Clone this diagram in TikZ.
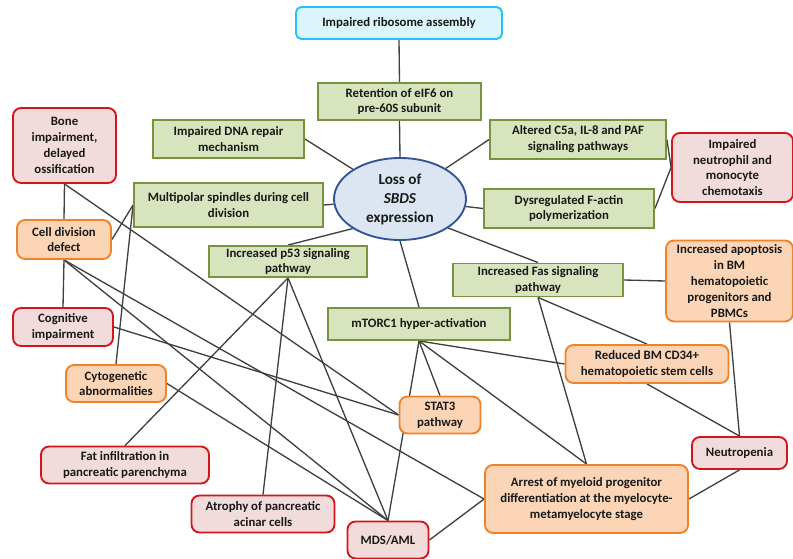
\documentclass[tikz,border=0pt]{standalone}
\usepackage{fontspec}
\setmainfont{Carlito}
\usepackage{tikz}
\usetikzlibrary{shapes.geometric}
\usetikzlibrary{backgrounds}
\definecolor{GreenFill}{HTML}{D7E4BD}
\definecolor{GreenLine}{HTML}{77933C}
\definecolor{CyanFill}{HTML}{DBF5FC}
\definecolor{CyanLine}{HTML}{22C2F2}
\definecolor{RedFill}{HTML}{F2DCDB}
\definecolor{RedLine}{HTML}{D4161C}
\definecolor{OrangeFill}{HTML}{FBD5B5}
\definecolor{OrangeLine}{HTML}{F0822A}
\definecolor{BlueFill}{HTML}{DCE6F2}
\definecolor{BlueLine}{HTML}{2F5597}

\begin{document}
\begin{tikzpicture}[x=0.75pt, y=-0.75pt,
box/.style = {draw, line width=1.4pt, align=center, inner sep=1pt, text=black!90,
  font=\bfseries\fontsize{9.6}{11.9}\selectfont},
mech/.style = {box, rectangle, draw=GreenLine, fill=GreenFill},
cause/.style = {box, rectangle, rounded corners=4pt, draw=CyanLine, fill=CyanFill},
origin/.style = {box, ellipse, inner sep=0pt, draw=BlueLine, fill=BlueFill,
  font=\bfseries\fontsize{11.4}{14.2}\selectfont},
clin/.style = {box, rectangle, rounded corners=6pt, draw=RedLine, fill=RedFill},
haem/.style = {box, rectangle, rounded corners=6pt, draw=OrangeLine, fill=OrangeFill},
edge/.style = {line width=1pt, draw=black!75}]
\useasboundingbox (0,0) rectangle (793,559);
\node[cause, minimum width=154.5pt, minimum height=24pt] (rib) at (399,23) {Impaired ribosome assembly};
\node[mech, minimum width=122.25pt, minimum height=27.75pt] (eif) at (399.5,101.5) {Retention of eIF6 on\\pre-60S subunit};
\node[mech, minimum width=113.25pt, minimum height=28.5pt] (dna) at (228.5,139) {Impaired DNA repair\\mechanism};
\node[mech, minimum width=132pt, minimum height=29.25pt] (c5a) at (578,139.5) {Altered C5a, IL-8 and PAF\\signaling pathways};
\node[origin, minimum width=99pt, minimum height=61.5pt] (loss) at (400,199) {Loss of\\\textit{SBDS}\\expression};
\node[clin, minimum width=77.25pt, minimum height=56.25pt] (bone) at (64.5,145.5) {Bone\\impairment,\\delayed\\ossification};
\node[clin, minimum width=90.75pt, minimum height=51.75pt] (neut) at (732.5,167.5) {Impaired\\neutrophil and\\monocyte\\chemotaxis};
\node[mech, minimum width=141.75pt, minimum height=33pt] (multi) at (228.5,205) {Multipolar spindles during cell\\division};
\node[mech, minimum width=127.5pt, minimum height=29.25pt] (factin) at (569,208.5) {Dysregulated F-actin\\polymerization};
\node[haem, minimum width=70.5pt, minimum height=29.25pt] (cdd) at (64,239.5) {Cell division\\defect};
\node[mech, minimum width=118.5pt, minimum height=23.25pt] (p53) at (288,261.5) {Increased p53 signaling\\pathway};
\node[mech, minimum width=127.5pt, minimum height=24.75pt] (fas) at (538,280) {Increased Fas signaling\\pathway};
\node[haem, minimum width=95.25pt, minimum height=60.75pt] (apop) at (729.5,281) {Increased apoptosis\\in BM\\hematopoietic\\progenitors and\\PBMCs};
\node[clin, minimum width=75pt, minimum height=28.5pt] (cog) at (63,327) {Cognitive\\impairment};
\node[mech, minimum width=136.5pt, minimum height=24pt] (mtor) at (419,324) {mTORC1 hyper-activation};
\node[haem, minimum width=122.25pt, minimum height=28.5pt] (cd34) at (647,364) {Reduced BM CD34+\\hematopoietic stem cells};
\node[haem, minimum width=75pt, minimum height=27.75pt] (cyto) at (116,383.5) {Cytogenetic\\abnormalities};
\node[haem, minimum width=60.75pt, minimum height=27.75pt] (stat) at (440,415) {STAT3\\pathway};
\node[clin, minimum width=126pt, minimum height=27.75pt] (fat) at (125,465) {Fat infiltration in\\pancreatic parenchyma};
\node[clin, minimum width=71.25pt, minimum height=24pt] (neutp) at (739.5,453) {Neutropenia};
\node[haem, minimum width=152.25pt, minimum height=51pt] (arrest) at (586.5,499) {Arrest of myeloid progenitor\\differentiation at the myelocyte-\\metamyelocyte stage};
\node[clin, minimum width=107.25pt, minimum height=27.75pt] (atro) at (263,514) {Atrophy of pancreatic\\acinar cells};
\node[clin, minimum width=60.75pt, minimum height=27.75pt] (mds) at (388,540) {MDS/AML};

\begin{scope}[on background layer]
\draw[edge] (rib.south) -- (eif.north);
\draw[edge] (eif.south) -- (loss.north);
\draw[edge] (dna.east) -- (loss);
\draw[edge] (c5a.west) -- (loss);
\draw[edge] (multi.east) -- (loss);
\draw[edge] (factin.west) -- (loss);
\draw[edge] (c5a.east) -- (neut.west);
\draw[edge] (factin.east) -- (neut.west);
\draw[edge] (loss.212) -- (p53.north);
\draw[edge] (loss.329) -- (fas.north);
\draw[edge] (loss.south) -- (mtor.north);
\draw[edge] (bone.south) -- (cdd.north);
\draw[edge] (bone.south) -- (stat.west);
\draw[edge] (cdd.east) -- (multi.west);
\draw[edge] (multi.west) -- (cyto.north);
\draw[edge] (cdd.south) -- (cog.north);
\draw[edge] (cdd.south) -- (mds.north);
\draw[edge] (cdd.south) -- (arrest.west);
\draw[edge] (cog.east) -- (stat.west);
\draw[edge] (p53.south) -- (fat.north);
\draw[edge] (p53.south) -- (atro.north);
\draw[edge] (p53.south) -- (mds.north);
\draw[edge] (cyto.east) -- (mds.north);
\draw[edge] (mtor.south) -- (mds.north);
\draw[edge] (mtor.south) -- (stat.north);
\draw[edge] (mtor.south) -- (cd34.west);
\draw[edge] (mtor.south) -- (arrest.north);
\draw[edge] (fas.east) -- (apop.west);
\draw[edge] (fas.south) -- (cd34.north);
\draw[edge] (fas.south) -- (arrest.north);
\draw[edge] (apop.south) -- (neutp.north);
\draw[edge] (cd34.south) -- (neutp.north);
\draw[edge] (neutp.south) -- (arrest.east);
\draw[edge] (mds.east) -- (arrest.west);
\end{scope}
\end{tikzpicture}
\end{document}
